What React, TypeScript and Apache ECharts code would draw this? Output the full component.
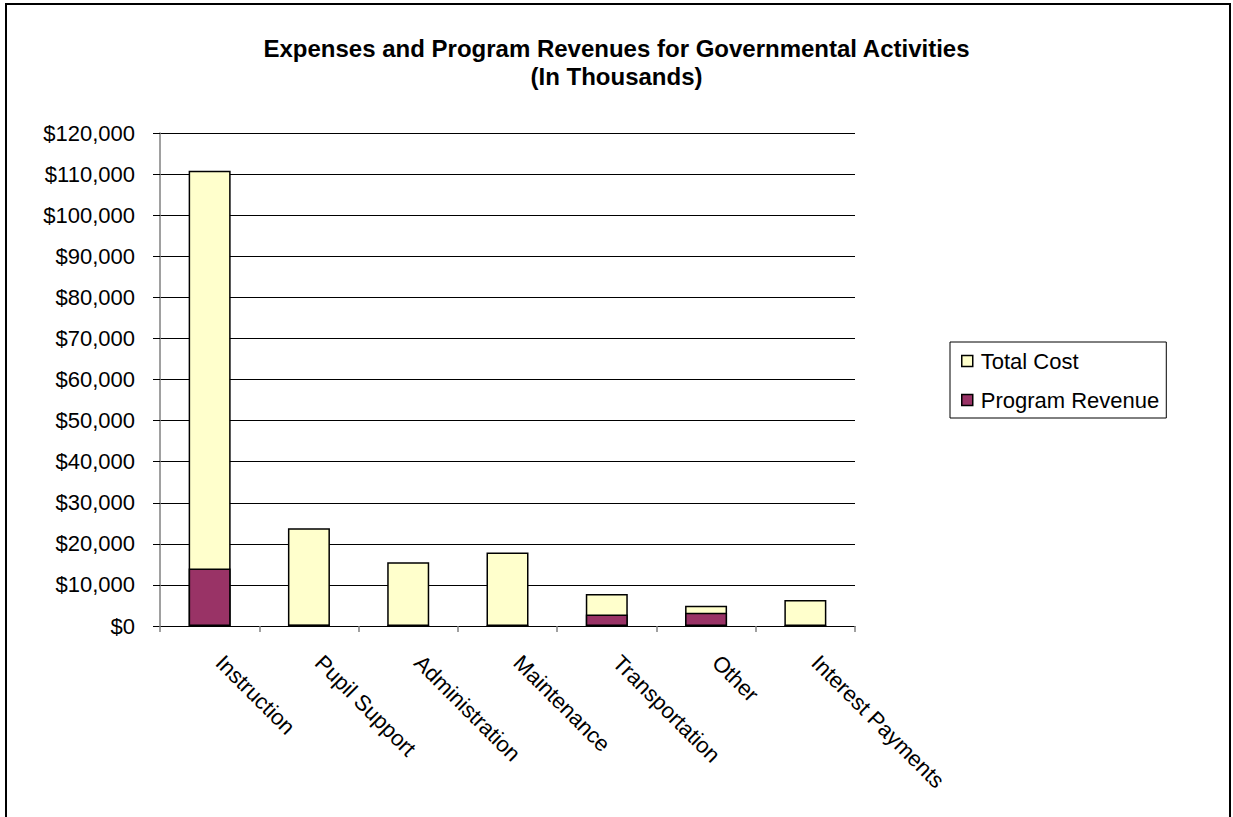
import React, { useEffect, useRef } from "react";
import * as echarts from "echarts";

const titleLines = [
  "Expenses and Program Revenues for Governmental Activities",
  "(In Thousands)",
];
const categories = [
  "Instruction",
  "Pupil Support",
  "Administration",
  "Maintenance",
  "Transportation",
  "Other",
  "Interest Payments",
];
const totalCost = [110800, 23800, 15500, 17900, 7800, 4900, 6300];
const programRevenue = [14000, 300, 0, 0, 2800, 3200, 0];
const seriesNames = ["Total Cost", "Program Revenue"];
const yMin = 0;
const yMax = 120000;
const yInterval = 10000;

const FONT = 'Arial, "Liberation Sans", sans-serif';

export default function App() {
  const ref = useRef<HTMLDivElement>(null);
  useEffect(() => {
    if (!ref.current) return;
    const chart = echarts.init(ref.current, null, { renderer: "svg" });
    chart.setOption({
      animation: false,
      backgroundColor: "#ffffff",
      textStyle: { fontFamily: FONT },
      title: {
        text: titleLines.join("\n"),
        left: "center",
        top: 29,
        textStyle: {
          fontFamily: FONT,
          fontSize: 24,
          fontWeight: "bold",
          color: "#000",
          lineHeight: 28,
        },
      },
      legend: {
        orient: "vertical",
        left: 950,
        top: 342,
        padding: [7, 7, 6, 11],
        itemGap: 15,
        itemWidth: 11,
        itemHeight: 11,
        icon: "rect",
        borderColor: "#000",
        borderWidth: 1,
        backgroundColor: "#fff",
        data: seriesNames,
        itemStyle: { borderColor: "#000", borderWidth: 1.5 },
        textStyle: {
          fontFamily: FONT,
          fontSize: 22,
          color: "#000",
          lineHeight: 24,
          padding: [0, 0, 0, 3],
        },
      },
      grid: { left: 160, right: 378, top: 133, bottom: 191, containLabel: false },
      xAxis: {
        type: "category",
        data: categories,
        axisLine: { show: true, lineStyle: { color: "#000", width: 1 } },
        axisTick: { show: true, length: 6, lineStyle: { color: "#808080", width: 1.5 } },
        axisLabel: {
          rotate: -45,
          interval: 0,
          margin: 23,
          padding: [0, 0, 0, 14],
          fontFamily: FONT,
          fontSize: 22,
          color: "#000",
        },
      },
      yAxis: {
        type: "value",
        min: yMin,
        max: yMax,
        interval: yInterval,
        axisLine: { show: true, lineStyle: { color: "#808080", width: 1.5 } },
        axisTick: { show: true, length: 7, lineStyle: { color: "#000", width: 1 } },
        splitLine: { show: true, lineStyle: { color: "#000", width: 1 } },
        axisLabel: {
          margin: 25,
          fontFamily: FONT,
          fontSize: 22,
          color: "#000",
          formatter: (v: number) => "$" + v.toLocaleString("en-US"),
        },
      },
      series: [
        {
          name: seriesNames[0],
          type: "bar",
          data: totalCost,
          barWidth: 42,
          barGap: "-100%",
          itemStyle: { color: "#FFFFCC", borderColor: "#000", borderWidth: 1.5 },
        },
        {
          name: seriesNames[1],
          type: "bar",
          data: programRevenue,
          barWidth: 42,
          barGap: "-100%",
          itemStyle: { color: "#993366", borderColor: "#000", borderWidth: 1.5 },
        },
      ],
      graphic: [
        {
          type: "rect",
          shape: { x: 6, y: 4, width: 1224, height: 900 },
          style: { fill: "none", stroke: "#000", lineWidth: 2 },
          silent: true,
          z: 100,
        },
      ],
    });
    return () => chart.dispose();
  }, []);
  return (
    <div
      ref={ref}
      style={{ position: "absolute", left: 0, top: 0, width: 1233, height: 817 }}
    />
  );
}
